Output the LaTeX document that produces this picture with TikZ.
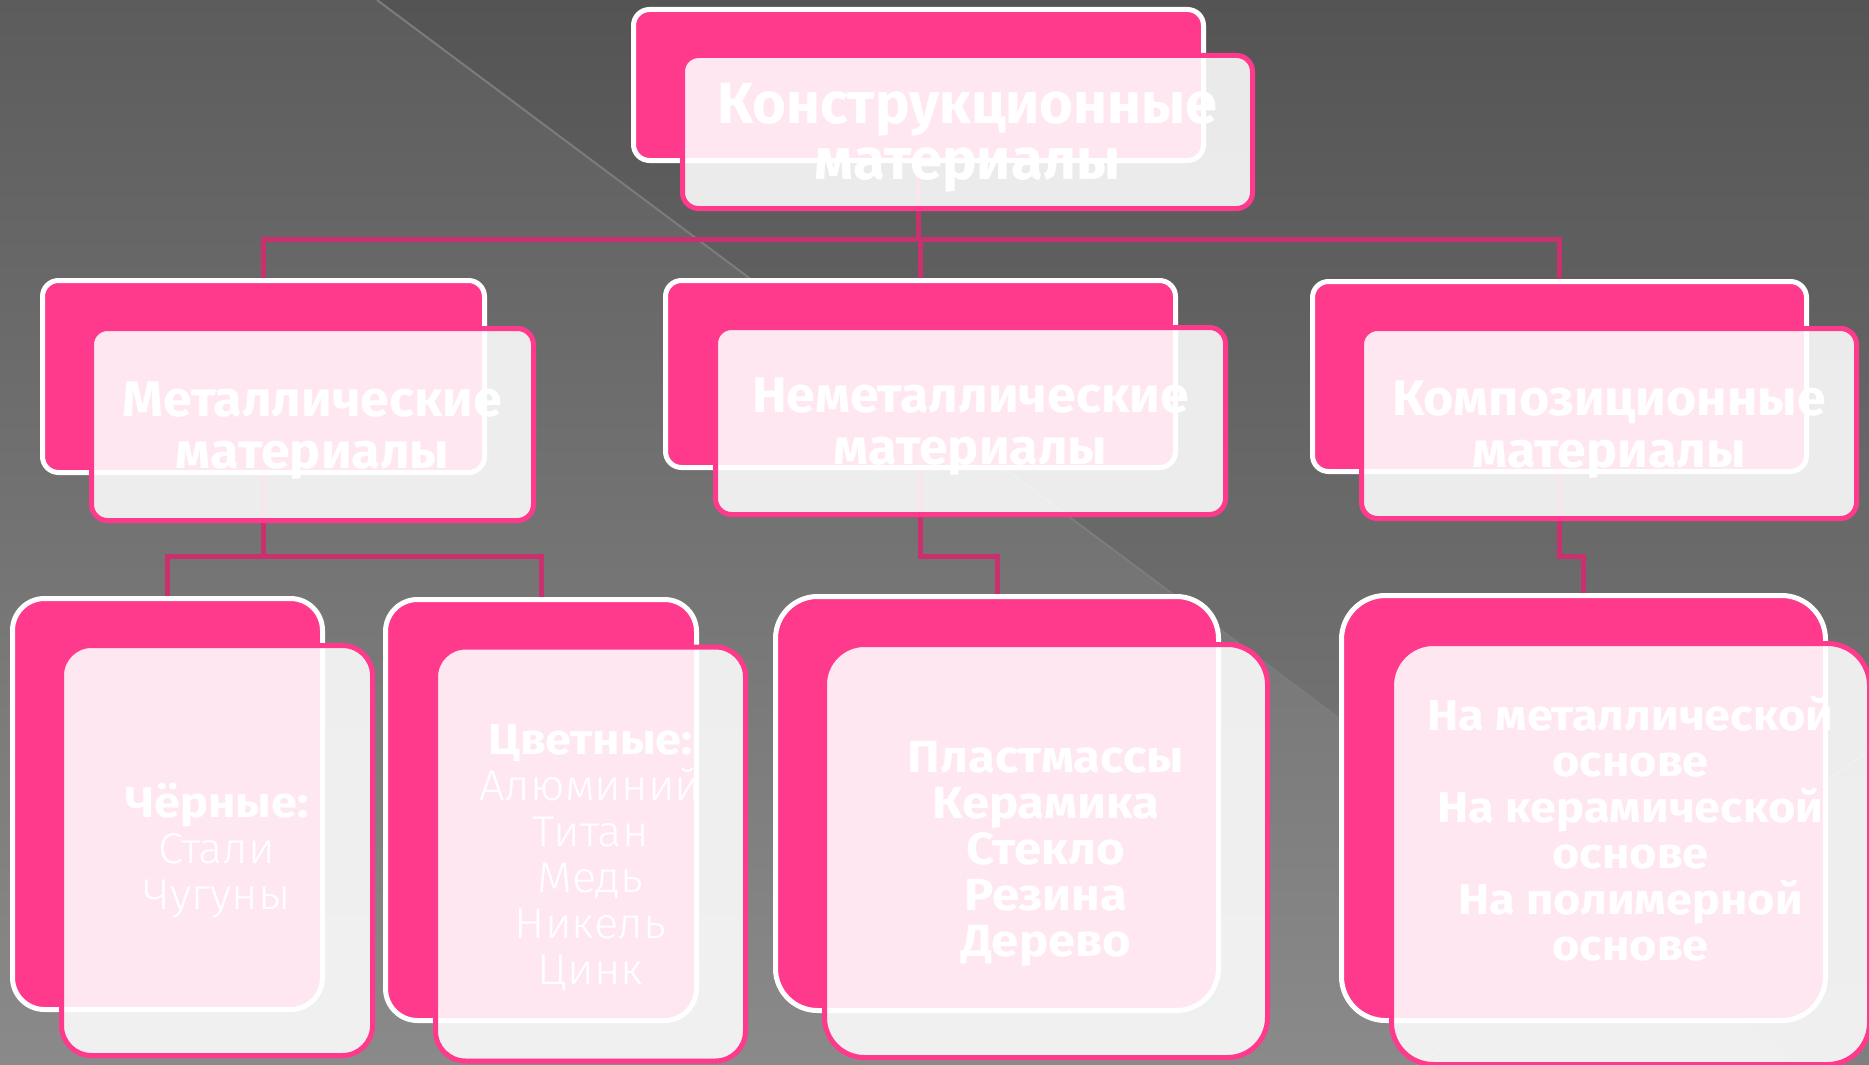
\documentclass[tikz,border=0pt]{standalone}
\usepackage{fontspec}
\setmainfont{Fira Sans}
\newfontfamily\hdfont{Fira Sans}[FakeStretch=1.0]
\newfontfamily\mdfont{Fira Sans}[FakeStretch=1.04]
\newfontfamily\smfont{Fira Sans}[FakeStretch=1.09]
\newfontfamily\ltfont{Fira Sans Light}[FakeStretch=1.05]
\newcommand\litef{\ltfont\mdseries\fontsize{43}{46}\selectfont}
\definecolor{pinkc}{HTML}{FF3A8C}
\definecolor{connc}{HTML}{C8306E}
\definecolor{bgtop}{HTML}{5C5C5C}
\definecolor{bgmid}{HTML}{6D6D6D}
\definecolor{bgbot}{HTML}{8A8A8A}
\definecolor{diagc}{HTML}{7C7C7C}
\pgfdeclarelayer{bgl}
\pgfdeclarelayer{connl}
\pgfsetlayers{bgl,connl,main}
\tikzset{
  backbox/.style={draw=white, fill=pinkc, line width=5pt, rectangle, rounded corners=#1, inner sep=0pt},
  backbox/.default=16pt,
  frontbox/.style={draw=pinkc, fill=white, fill opacity=0.88, line width=5pt, rectangle,
    rounded corners=#1, inner sep=0pt},
  frontbox/.default=16pt,
  boxtext/.style={inner sep=0pt, align=center, text=white},
  conn/.style={draw=connc, line width=5pt},
  ttext/.style={boxtext, font=\hdfont\bfseries\fontsize{58}{56}\selectfont},
  mtext/.style={boxtext, font=\mdfont\bfseries\fontsize{50}{52}\selectfont},
  ltext/.style={boxtext, font=\smfont\bfseries\fontsize{43}{46}\selectfont},
  ctext/.style={boxtext, font=\smfont\bfseries\fontsize{45}{46}\selectfont},
}
\begin{document}
\begin{tikzpicture}[x=1pt,y=-1pt]
\useasboundingbox (0,0) rectangle (1869,1065);
\begin{pgfonlayer}{bgl}
  \shade[top color=bgtop, middle color=bgmid, bottom color=bgbot] (0,0) rectangle (1869,1065);
  \fill[black, opacity=0.08] (377,0) -- (1869,0) -- (1869,1114) -- cycle;
  \draw[diagc, line width=2pt] (377,0) -- (1869,1114);
  \draw[white, opacity=0.12, line width=1.5pt] (1869,751) -- (1417,1065);
\end{pgfonlayer}

% top
\node[backbox, minimum width=570pt, minimum height=151pt] (tb) at (918.5,85) {};
\node[frontbox, minimum width=570pt, minimum height=153pt] (tf) at (967.5,132) {};
\node[ttext] (tft) at ([yshift=-6pt]tf.center) {Конструкционные\\материалы};

% level 2
\node[backbox, minimum width=442pt, minimum height=192pt] (m1b) at (263.5,376.5) {};
\node[frontbox, minimum width=442pt, minimum height=192pt] (m1f) at (312.5,424.5) {};
\node[mtext] (m1t) at ([yshift=-6pt]m1f.center) {Металлические\\материалы};
\node[backbox, minimum width=510pt, minimum height=187pt] (m2b) at (920.5,374) {};
\node[frontbox, minimum width=510pt, minimum height=187pt] (m2f) at (970.5,421) {};
\node[mtext] (m2t) at ([yshift=-6pt]m2f.center) {Неметаллические\\материалы};
\node[backbox, minimum width=494pt, minimum height=190pt] (m3b) at (1559.5,376.5) {};
\node[frontbox, minimum width=495pt, minimum height=190pt] (m3f) at (1609,423.5) {};
\node[mtext] (m3t) at ([yshift=-6pt]m3f.center) {Композиционные\\материалы};

% level 3
\node[backbox=32pt, minimum width=310pt, minimum height=411pt] (ab) at (167.5,804) {};
\node[frontbox=30pt, minimum width=311pt, minimum height=410pt] (af) at (217,850.5) {};
\node[ltext] (at) at (af.center)
  {Чёрные:\\{\litef Стали}\\{\litef Чугуны}};
\node[backbox=32pt, minimum width=311pt, minimum height=421pt] (bb) at (541,810) {};
\node[frontbox=30pt, minimum width=310pt, minimum height=414pt] (bf) at (590.5,854) {};
\node[ltext] (bt) at ([yshift=-4pt]bf.center)
  {Цветные:\\{\litef Алюминий}\\{\litef Титан}\\{\litef Медь}\\{\litef Никель}\\{\litef Цинк}};
\node[backbox=42pt, minimum width=443pt, minimum height=414pt] (cb) at (997,803.5) {};
\node[frontbox=40pt, minimum width=443pt, minimum height=413pt] (cf) at (1046,851) {};
\node[ctext] (ct) at ([yshift=-3pt]cf.center)
  {Пластмассы\\Керамика\\Стекло\\Резина\\Дерево};
\node[backbox=44pt, minimum width=484pt, minimum height=425pt] (db) at (1583.5,808) {};
\node[frontbox=42pt, minimum width=478pt, minimum height=421pt] (df) at (1630.5,854) {};
\node[ltext] (dt) at ([yshift=25pt]df.center)
  {На металлической\\основе\\На керамической\\основе\\На полимерной\\основе};

% connectors
\begin{pgfonlayer}{connl}
  \coordinate (j1) at (0,239.5);
  \coordinate (j2) at (0,556);
  \draw[conn] (tb.south) -- (tb.south |- j1) -| (m1b.north);
  \draw[conn] (tb.south) -- (tb.south |- j1) -| (m2b.north);
  \draw[conn] (tb.south) -- (tb.south |- j1) -| (m3b.north);
  \draw[conn] (m1b.south) -- (m1b.south |- j2) -| (ab.north);
  \draw[conn] (m1b.south) -- (m1b.south |- j2) -| (bb.north);
  \draw[conn] (m2b.south) -- (m2b.south |- j2) -| (cb.north);
  \draw[conn] (m3b.south) -- (m3b.south |- j2) -| (db.north);
\end{pgfonlayer}
\end{tikzpicture}
\end{document}
